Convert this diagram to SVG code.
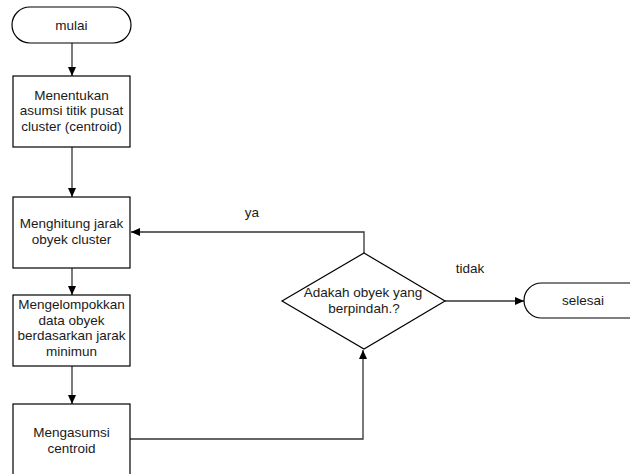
<svg xmlns="http://www.w3.org/2000/svg" width="630" height="474" viewBox="0 0 630 474">
<style>
.n{fill:#fff;stroke:#000;stroke-width:1.2}
.t{font-family:"Liberation Sans",Arial,sans-serif;font-size:13.5px;fill:#1a1a1a;text-anchor:middle}
.c{fill:none;stroke:#333;stroke-width:1.3}
</style>
<defs>
<marker id="ah" markerUnits="userSpaceOnUse" markerWidth="10" markerHeight="10" refX="9" refY="5" orient="auto">
<path d="M0,1 L9,5 L0,9 Z" fill="#000"/>
</marker>
</defs>
<rect width="630" height="474" fill="#fff"/>
<g id="connectors">
<path class="c" d="M72,43 V76" marker-end="url(#ah)"/>
<path class="c" d="M72,147 V197" marker-end="url(#ah)"/>
<path class="c" d="M72,268 V295" marker-end="url(#ah)"/>
<path class="c" d="M72,366 V404" marker-end="url(#ah)"/>
<path class="c" d="M130,439 H363 V350" marker-end="url(#ah)"/>
<path class="c" d="M364,253 V232 H131" marker-end="url(#ah)"/>
<path class="c" d="M445,301 H524" marker-end="url(#ah)"/>
<text class="t" x="252" y="217">ya</text>
<text class="t" x="470" y="273">tidak</text>
</g>
<g id="mulai">
<rect class="n" x="12" y="7" width="119" height="36" rx="18"/>
<text class="t" x="71.5" y="30">mulai</text>
</g>
<g id="box1">
<rect class="n" x="13" y="76" width="117" height="71"/>
<text class="t" x="71.5" y="99.5">Menentukan</text>
<text class="t" x="71.5" y="115">asumsi titik pusat</text>
<text class="t" x="71.5" y="130.5">cluster (centroid)</text>
</g>
<g id="box2">
<rect class="n" x="13" y="197" width="117" height="71"/>
<text class="t" x="71.5" y="228">Menghitung jarak</text>
<text class="t" x="71.5" y="243.5">obyek cluster</text>
</g>
<g id="box3">
<rect class="n" x="13" y="295" width="117" height="71"/>
<text class="t" x="71.5" y="309">Mengelompokkan</text>
<text class="t" x="71.5" y="324.5">data obyek</text>
<text class="t" x="71.5" y="340">berdasarkan jarak</text>
<text class="t" x="71.5" y="355.5">minimun</text>
</g>
<g id="box4">
<rect class="n" x="13" y="404" width="117" height="80"/>
<text class="t" x="71.5" y="437">Mengasumsi</text>
<text class="t" x="71.5" y="452.5">centroid</text>
</g>
<g id="decision">
<polygon class="n" points="364,253 445,301 364,349 282,301"/>
<text class="t" x="363" y="297">Adakah obyek yang</text>
<text class="t" x="364" y="313">berpindah.?</text>
</g>
<g id="selesai">
<rect class="n" x="524" y="283" width="124" height="35" rx="17.5"/>
<text class="t" x="583" y="305">selesai</text>
</g>
</svg>
